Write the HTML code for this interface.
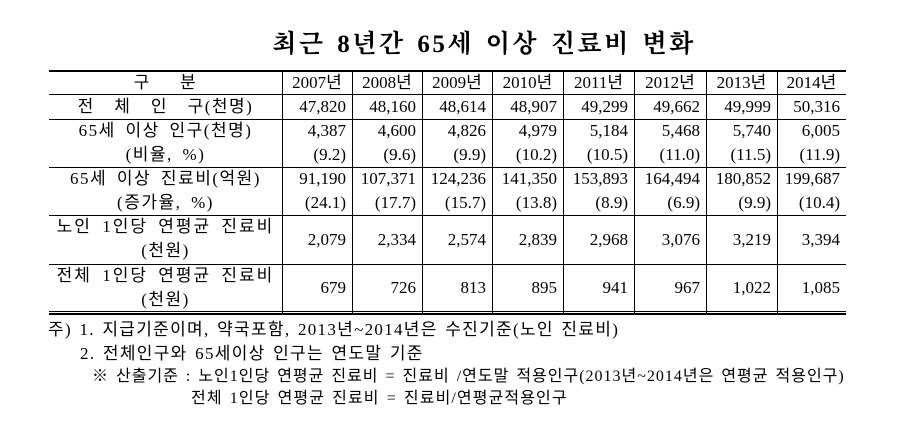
<!DOCTYPE html>
<html><head><meta charset="utf-8"><style>
body{margin:0;background:#fff;width:903px;height:425px;overflow:hidden;position:relative;font-family:"Liberation Serif","Noto Sans CJK KR",serif;color:#000}
.t{position:absolute;white-space:nowrap}
.title{left:0;width:968px;text-align:center;top:24px;font-size:25px;font-weight:bold;font-family:"Liberation Serif","Noto Serif CJK SC","Noto Sans CJK KR",serif;letter-spacing:2.5px;word-spacing:3px}
.h{position:absolute;left:49px;width:797px;background:#000}
.v{position:absolute;width:1px;background:#000;top:72px;height:241px}
.c{position:absolute;font-size:17px;line-height:24px;white-space:nowrap}
.k{font-family:"Liberation Serif","Noto Sans CJK KR",sans-serif;text-align:center;left:49px;width:233px;letter-spacing:1.5px;word-spacing:4px}
.n{position:absolute;font-size:17px;white-space:nowrap;font-family:"Liberation Serif","Noto Sans CJK KR",sans-serif;letter-spacing:1.3px;word-spacing:2px}
</style></head><body>
<div class="t title">최근 8년간 65세 이상 진료비 변화</div>
<div class="h" style="top:70px;height:2px"></div>
<div class="h" style="top:94px;height:1px"></div>
<div class="h" style="top:119px;height:1px"></div>
<div class="h" style="top:167px;height:1px"></div>
<div class="h" style="top:215px;height:1px"></div>
<div class="h" style="top:264px;height:1px"></div>
<div class="h" style="top:311px;height:1px"></div>
<div class="h" style="top:313px;height:2px"></div>
<div class="v" style="left:282px"></div>
<div class="v" style="left:352px"></div>
<div class="v" style="left:422px"></div>
<div class="v" style="left:492px"></div>
<div class="v" style="left:563px"></div>
<div class="v" style="left:634px"></div>
<div class="v" style="left:706px"></div>
<div class="v" style="left:777px"></div>

<div class="c k" style="top:71px">구&nbsp;&nbsp;&nbsp;분</div>
<div class="c k" style="top:95px">전&nbsp;&nbsp;체&nbsp;&nbsp;인&nbsp;&nbsp;구(천명)</div>
<div class="c k" style="top:119px">65세 이상 인구(천명)</div>
<div class="c k" style="top:143px">(비율, %)</div>
<div class="c k" style="top:167px">65세 이상 진료비(억원)</div>
<div class="c k" style="top:191px">(증가율, %)</div>
<div class="c k" style="top:215px;letter-spacing:2px;word-spacing:4px">노인 1인당 연평균 진료비</div>
<div class="c k" style="top:239px">(천원)</div>
<div class="c k" style="top:264px;letter-spacing:2px;word-spacing:4px">전체 1인당 연평균 진료비</div>
<div class="c k" style="top:288px">(천원)</div>

<div id="cells"></div>
<script>
var L=[282,352,422,492,563,634,706,777];
var rows=[
[71,["2007년","2008년","2009년","2010년","2011년","2012년","2013년","2014년"],1],
[95,["47,820","48,160","48,614","48,907","49,299","49,662","49,999","50,316"]],
[119,["4,387","4,600","4,826","4,979","5,184","5,468","5,740","6,005"]],
[143,["(9.2)","(9.6)","(9.9)","(10.2)","(10.5)","(11.0)","(11.5)","(11.9)"]],
[167,["91,190","107,371","124,236","141,350","153,893","164,494","180,852","199,687"]],
[191,["(24.1)","(17.7)","(15.7)","(13.8)","(8.9)","(6.9)","(9.9)","(10.4)"]],
[228,["2,079","2,334","2,574","2,839","2,968","3,076","3,219","3,394"]],
[276,["679","726","813","895","941","967","1,022","1,085"]]];
var h="";
rows.forEach(function(r){r[1].forEach(function(s,i){
 var w=(i==7?846:L[i+1])-L[i];
 if(r[2]) h+='<div class="c" style="top:'+r[0]+'px;left:'+L[i]+'px;width:'+w+'px;text-align:center">'+s+'</div>';
 else h+='<div class="c" style="top:'+r[0]+'px;left:'+L[i]+'px;width:'+(w-6)+'px;text-align:right">'+s+'</div>';
});});
document.getElementById('cells').innerHTML=h;
</script>

<div class="n" style="left:48px;top:315px">주) 1. 지급기준이며, 약국포함, 2013년~2014년은 수진기준(노인 진료비)</div>
<div class="n" style="left:80px;top:339px">2. 전체인구와 65세이상 인구는 연도말 기준</div>
<div class="n" style="left:92px;top:362px;font-size:16px;letter-spacing:1px">※ 산출기준 : 노인1인당 연평균 진료비 = 진료비 /연도말 적용인구(2013년~2014년은 연평균 적용인구)</div>
<div class="n" style="left:191px;top:384px;font-size:16px;letter-spacing:1.1px">전체 1인당 연평균 진료비 = 진료비/연평균적용인구</div>
</body></html>
